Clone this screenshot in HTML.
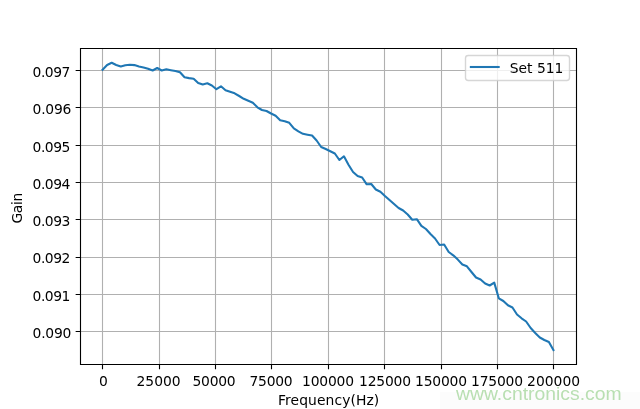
<!DOCTYPE html>
<html><head><meta charset="utf-8"><title>Gain vs Frequency</title>
<style>html,body{margin:0;padding:0;background:#fff;overflow:hidden;}svg{display:block;}</style>
</head><body>
<svg width="640" height="409" viewBox="0 0 640 409" font-family="'DejaVu Sans', sans-serif" font-size="13.8889" fill="#000" style="will-change:transform"><rect x="0" y="0" width="640" height="409" fill="#ffffff"/>
<rect x="440" y="392" width="200" height="17" fill="#fcfcfc"/>
<path d="M102.5 48.5V364.5M159.5 48.5V364.5M215.5 48.5V364.5M271.5 48.5V364.5M328.5 48.5V364.5M384.5 48.5V364.5M441.5 48.5V364.5M497.5 48.5V364.5M553.5 48.5V364.5M80.5 331.5H576.5M80.5 294.5H576.5M80.5 257.5H576.5M80.5 219.5H576.5M80.5 182.5H576.5M80.5 145.5H576.5M80.5 107.5H576.5M80.5 70.5H576.5" stroke="#b0b0b0" stroke-width="1.1111" fill="none"/>
<clipPath id="ax"><rect x="80" y="48" width="497" height="317"/></clipPath>
<polyline points="102.55,69.70 107.10,65.00 111.65,62.80 116.21,65.00 120.76,66.50 125.32,65.20 129.87,64.70 134.43,65.10 138.98,66.50 143.54,67.50 148.09,68.80 152.65,70.50 157.20,68.00 161.76,70.50 166.31,69.30 170.87,70.20 175.42,71.00 179.97,72.30 184.53,77.30 189.08,78.10 193.64,78.70 198.19,83.00 202.75,84.50 207.30,83.30 211.86,85.50 216.41,89.20 220.97,86.30 225.52,90.20 230.08,91.80 234.63,93.30 239.18,96.00 243.74,98.80 248.29,100.80 252.85,102.70 257.40,107.30 261.96,110.00 266.51,111.00 271.07,113.50 275.62,115.70 280.18,120.20 284.73,121.20 289.29,122.80 293.84,128.30 298.39,131.30 302.95,133.80 307.50,134.70 312.06,135.50 316.61,140.50 321.17,147.00 325.72,149.00 330.28,151.30 334.83,153.50 339.39,160.00 343.94,156.30 348.50,164.70 353.05,172.00 357.61,176.00 362.16,177.50 366.71,184.30 371.27,184.00 375.82,189.50 380.38,191.70 384.93,196.00 389.49,200.00 394.04,204.00 398.60,208.00 403.15,210.50 407.71,214.50 412.26,219.70 416.82,219.20 421.37,225.80 425.92,229.00 430.48,234.00 435.03,238.50 439.59,245.00 444.14,244.50 448.70,252.00 453.25,255.30 457.81,259.60 462.36,264.50 466.92,266.30 471.47,272.00 476.03,277.50 480.58,279.50 485.13,283.50 489.69,285.50 494.24,282.60 498.80,298.30 503.35,301.00 507.91,305.30 512.46,307.50 517.02,314.50 521.57,318.30 526.13,321.50 530.68,328.00 535.24,333.00 539.79,337.50 544.35,340.00 548.90,342.00 553.45,350.00" fill="none" stroke="#1f77b4" stroke-width="2.0833" stroke-linejoin="round" stroke-linecap="square" clip-path="url(#ax)"/>
<path d="M80.5 48.5H576.5V364.5H80.5Z" stroke="#000" stroke-width="1.1111" fill="none" stroke-linejoin="miter"/>
<path d="M102.5 364.5v4.8611M159.5 364.5v4.8611M215.5 364.5v4.8611M271.5 364.5v4.8611M328.5 364.5v4.8611M384.5 364.5v4.8611M441.5 364.5v4.8611M497.5 364.5v4.8611M553.5 364.5v4.8611M80.5 331.5h-4.8611M80.5 294.5h-4.8611M80.5 257.5h-4.8611M80.5 219.5h-4.8611M80.5 182.5h-4.8611M80.5 145.5h-4.8611M80.5 107.5h-4.8611M80.5 70.5h-4.8611" stroke="#000" stroke-width="1.1111" fill="none"/>
<text id="t_x0" x="99.10" y="386.29">0</text>
<text id="t_x1" x="136.50" y="386.29">25000</text>
<text id="t_x2" x="192.50" y="386.29" textLength="43.14" lengthAdjust="spacing">50000</text>
<text id="t_x3" x="249.50" y="386.29" textLength="43.14" lengthAdjust="spacing">75000</text>
<text id="t_x4" x="302.10" y="386.29" textLength="51.97" lengthAdjust="spacing">100000</text>
<text id="t_x5" x="359.10" y="386.29" textLength="51.97" lengthAdjust="spacing">125000</text>
<text id="t_x6" x="415.10" y="386.29" textLength="51.97" lengthAdjust="spacing">150000</text>
<text id="t_x7" x="471.10" y="386.29" textLength="51.97" lengthAdjust="spacing">175000</text>
<text id="t_x8" x="527.10" y="386.29">200000</text>
<text id="t_y0" x="32.58" y="337.78" textLength="38.73" lengthAdjust="spacing">0.090</text>
<text id="t_y1" x="32.58" y="300.78" textLength="37.73" lengthAdjust="spacing">0.091</text>
<text id="t_y2" x="32.58" y="262.78" textLength="37.73" lengthAdjust="spacing">0.092</text>
<text id="t_y3" x="32.58" y="225.78" textLength="37.73" lengthAdjust="spacing">0.093</text>
<text id="t_y4" x="32.58" y="188.78" textLength="37.73" lengthAdjust="spacing">0.094</text>
<text id="t_y5" x="32.58" y="151.78" textLength="37.73" lengthAdjust="spacing">0.095</text>
<text id="t_y6" x="32.58" y="113.78" textLength="38.73" lengthAdjust="spacing">0.096</text>
<text id="t_y7" x="32.58" y="76.78" textLength="37.73" lengthAdjust="spacing">0.097</text>
<text id="t_xlabel" x="278.00" y="405.28" textLength="101.23" lengthAdjust="spacing">Frequency(Hz)</text>
<text id="t_ylabel" x="22.07" y="223.54" transform="rotate(-90 22.07 223.54)" textLength="30.91" lengthAdjust="spacing">Gain</text>
<rect x="465.5" y="55.5" width="104" height="25" rx="2.78" ry="2.78" fill="#ffffff" fill-opacity="0.8" stroke="#cccccc" stroke-opacity="0.8" stroke-width="1.3889"/>
<path d="M470.88 67H498.66" stroke="#1f77b4" stroke-width="2.0833" stroke-linecap="square"/>
<text id="t_legend" x="509.77" y="73.13">Set 511</text>
<text x="0" y="0" transform="translate(455.9 400) scale(1.02 1)" font-family="'Liberation Sans', Arial, sans-serif" font-size="19" fill="#b9dfb2">www.cntronics.com</text></svg>
</body></html>
